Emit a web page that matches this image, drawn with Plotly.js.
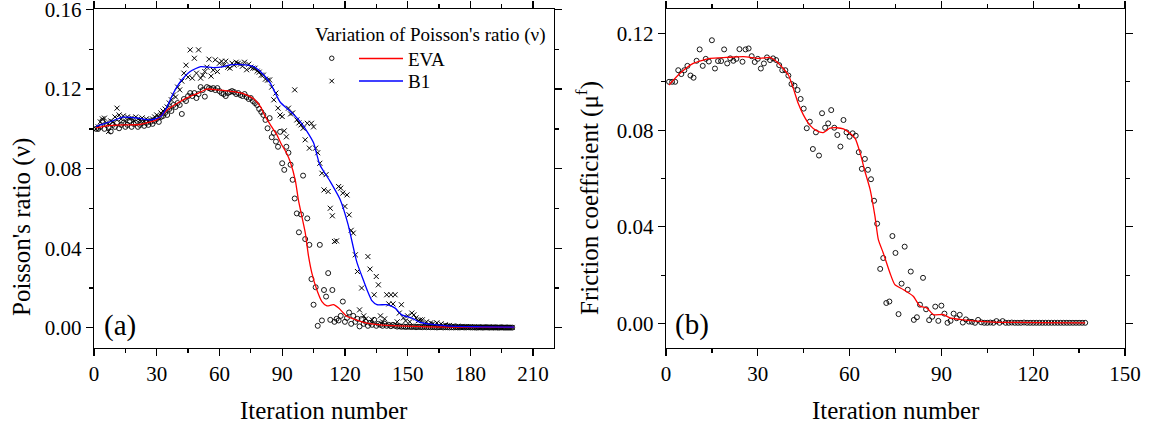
<!DOCTYPE html>
<html>
<head>
<meta charset="utf-8">
<script src="https://cdn.plot.ly/plotly-3.0.1.min.js"></script>
<style>html,body{margin:0;padding:0;background:#fff;}#chart{width:1160px;height:429px;}</style>
</head>
<body>
<div id="chart"></div>
<script>
// ---------- Panel (a): Poisson's ratio ----------
const evaPoints = [
0.100,0.100,0.101,0.104,0.100,0.102,0.101,0.0987,0.102,0.101,
0.103,0.1003,0.102,0.103,0.101,0.102,0.104,0.101,0.1025,0.103,
0.101,0.102,0.103,0.1015,0.103,0.102,0.1035,0.1025,0.104,0.105,
0.1035,0.106,0.1065,0.108,0.107,0.110,0.109,0.112,0.111,0.113,
0.112,0.1075,0.115,0.114,0.1165,0.118,0.1165,0.118,0.1155,0.1175,
0.121,0.1195,0.1162,0.121,0.1205,0.120,0.1205,0.1195,0.1205,0.119,
0.118,0.1175,0.1165,0.118,0.1185,0.119,0.1185,0.1175,0.118,0.117,
0.1165,0.1175,0.116,0.115,0.1155,0.114,0.113,0.112,0.110,0.1085,
0.107,0.1045,0.1003,0.1054,0.0958,0.098,0.0936,0.091,0.0985,0.0827,
0.0794,0.091,0.088,0.082,0.0744,0.065,0.0575,0.048,0.057,0.0765,
0.0446,0.055,0.0417,0.0245,0.0116,0.0204,0.001,0.0417,0.0037,0.019,
0.0157,0.0275,0.004,0.019,0.003,0.0045,0.0037,0.006,0.0132,0.003,
0.005,0.0077,0.002,0.006,0.003,0.0045,0.0007,0.0044,0.002,0.003,
0.001,0.0025,0.0015,0.004,0.001,0.002,0.0015,0.001,0.002,0.001,
0.0015,0.0008,0.0015,0.001,0.0006,0.0008,0.0005,0.0007,0.0004,0.0006,
0.0005,0.0004,0.0006,0.0003,0.0005,0.0004,0.0003,0.0005,0.0003,0.0004,
0.0003,0.0004,0.0003,0.0002,0.0003,0.0004,0.0002,0.0003,0.0003,0.0002,
0.0003,0.0002,0.0003,0.0002,0.0002,0.0003,0.0002,0.0002,0.0003,0.0002,
0.0002,0.0002,0.0001,0.0002,0.0002,0.0001,0.0002,0.0002,0.0001,0.0002,
0.0001,0.0002,0.0001,0.0001,0.0002,0.0001,0.0001,0.0001,0.0001,0.0001
];
const b1Points = [
0.100,0.101,0.1035,0.105,0.1054,0.103,0.0987,0.104,0.1035,0.106,
0.1104,0.107,0.105,0.1065,0.104,0.106,0.105,0.1055,0.104,0.106,
0.105,0.1045,0.1055,0.104,0.105,0.104,0.1045,0.105,0.106,0.107,
0.106,0.108,0.109,0.110,0.111,0.113,0.1146,0.117,0.116,0.121,
0.1196,0.124,0.128,0.132,0.126,0.1397,0.1255,0.1355,0.128,0.1397,
0.1255,0.127,0.1288,0.131,0.135,0.1265,0.1295,0.1347,0.1288,0.133,
0.134,0.132,0.134,0.131,0.1305,0.133,0.132,0.1335,0.133,0.1325,
0.1315,0.1335,0.1297,0.1325,0.131,0.1305,0.1305,0.129,0.1285,0.127,
0.127,0.125,0.1245,0.1246,0.121,0.1146,0.118,0.1104,0.107,0.1062,
0.099,0.096,0.1104,0.1075,0.108,0.1196,0.1045,0.103,0.102,0.1003,
0.0945,0.1028,0.0903,0.1028,0.101,0.0903,0.088,0.0827,0.0777,0.0693,
0.077,0.0685,0.0601,0.0563,0.0434,0.0437,0.071,0.0702,0.0677,0.061,
0.0668,0.0568,0.049,0.0476,0.0367,0.0283,0.009,0.02,0.006,0.0045,
0.0358,0.0295,0.004,0.0166,0.0258,0.0216,0.006,0.003,0.0045,0.0166,
0.012,0.0166,0.012,0.0166,0.003,0.0074,0.0116,0.005,0.0035,0.006,
0.003,0.0074,0.0065,0.005,0.0035,0.004,0.004,0.002,0.003,0.0015,
0.0025,0.002,0.0015,0.0025,0.001,0.002,0.001,0.0015,0.001,0.0012,
0.0008,0.001,0.0006,0.0008,0.0005,0.0007,0.0005,0.0006,0.0004,0.0005,
0.0004,0.0005,0.0003,0.0004,0.0003,0.0004,0.0003,0.0003,0.0004,0.0003,
0.0003,0.0002,0.0003,0.0003,0.0002,0.0003,0.0002,0.0002,0.0002,0.0002
];
const evaLineX = [1,6,14,22,27,30,35,40,46,50,54,59,62,67,72,76.5,79.6,82,85,87.5,89.5,92,94,96.3,97.8,99.4,101,102.6,104.2,106.6,109,111.4,114.5,117,121,124,130,137,146,160,180,201];
const evaLineY = [0.1005,0.1015,0.102,0.1022,0.1035,0.1045,0.1095,0.113,0.1163,0.118,0.120,0.1196,0.1193,0.1187,0.1175,0.115,0.1112,0.106,0.101,0.097,0.0925,0.088,0.083,0.074,0.064,0.056,0.048,0.036,0.0275,0.019,0.0132,0.011,0.0116,0.0099,0.0057,0.0045,0.0025,0.0015,0.001,0.0005,0.0003,0.0002];
const b1LineX = [1,8,14,21,27,32,35,38,41.4,46,51,57,62,65,72,76.4,79.6,84.3,89,94,98.7,102,105,108,113,117.8,121.5,125.7,129,131,133,135.3,140,144,147.2,152,156,168.7,185,201];
const b1LineY = [0.1012,0.1037,0.1059,0.1054,0.1045,0.1062,0.1112,0.118,0.1238,0.1288,0.1313,0.1308,0.1313,0.1322,0.1322,0.1313,0.1288,0.123,0.1135,0.1087,0.1035,0.0985,0.093,0.082,0.0735,0.0643,0.052,0.033,0.0235,0.018,0.0135,0.0116,0.0116,0.0099,0.0065,0.0049,0.0027,0.001,0.0005,0.0003];

// ---------- Panel (b): friction coefficient ----------
const fricPoints = [
0.1000,0.1000,0.1000,0.1048,0.1032,0.1048,0.1066,0.1026,0.1017,0.1087,
0.1134,0.1066,0.1095,0.1084,0.1172,0.1055,0.1086,0.1086,0.1134,0.1076,
0.1097,0.1087,0.1095,0.1135,0.1083,0.1134,0.1138,0.1106,0.1082,0.1095,
0.1055,0.1076,0.1101,0.109,0.1097,0.109,0.1069,0.1048,0.1048,0.1026,
0.0991,0.0984,0.0966,0.0929,0.0889,0.0808,0.0835,0.0722,0.0791,0.0695,
0.087,0.081,0.0828,0.0883,0.081,0.078,0.0732,0.0842,0.0791,0.0773,
0.0787,0.0777,0.0709,0.064,0.0681,0.0636,0.0597,0.0508,0.0413,0.0226,
0.0271,0.0085,0.0091,0.0362,0.0292,0.0039,0.0165,0.0318,0.014,0.0215,
0.0015,0.0026,0.0078,0.0189,0.0059,0.0014,0.0028,0.007,0.0011,0.0074,
0.0041,0.0003,0.0011,0.0041,0.0022,0.0036,0.0004,0.0017,0.0008,0.0007,
0.0003,0.0015,0.0005,0.0003,0.0003,0.0004,0.0003,0.001,0.0003,0.001,
0.0003,0.0003,0.0004,0.0003,0.0003,0.0003,0.0004,0.0003,0.0003,0.0003,
0.0003,0.0003,0.0003,0.0003,0.0003,0.0003,0.0003,0.0003,0.0003,0.0003,
0.0003,0.0003,0.0003,0.0003,0.0003,0.0003,0.0003
];
const fricLineX = [1,4.6,8.9,14.4,19.8,25.3,30.7,34,36.2,38.3,40,41.6,43.2,44.9,47,49.2,51.4,53.6,55.8,58,60.1,61.8,63.4,65,66.7,68.3,69.4,71,73.2,74.8,77.6,80.8,83,85.2,87.4,90.7,92.8,96,101.4,106.8,137];
const fricLineY = [0.0987,0.1035,0.1076,0.1097,0.1101,0.1104,0.1097,0.1101,0.1083,0.1055,0.1028,0.0973,0.0911,0.0863,0.0821,0.0798,0.079,0.0808,0.081,0.0805,0.0787,0.0766,0.0708,0.063,0.0555,0.0443,0.0347,0.0292,0.0209,0.0161,0.014,0.0113,0.0072,0.0065,0.0037,0.0037,0.0023,0.0017,0.001,0.0006,0.0003];

// tick labels / texts
const xTicksA = [0,30,60,90,120,150,180,210];
const yTicksA = [0,0.04,0.08,0.12,0.16];
const xTicksB = [0,30,60,90,120,150];
const yTicksB = [0,0.04,0.08,0.12];

// iteration numbers for the point series
const iterA = evaPoints.map((_, i) => i + 1);
const iterB = fricPoints.map((_, i) => i + 1);

const W = 1160, H = 429;
const FONT = 'Liberation Serif, Times New Roman, serif';
const px = v => v / W;
const py = v => 1 - v / H;

const circ = {symbol: 'circle-open', size: 5, color: '#000', line: {width: 0.9, color: '#000'}};
const cross = {symbol: 'x-thin-open', size: 5, color: '#000', line: {width: 1, color: '#000'}};

const traces = [
  {x: iterA, y: evaPoints, type: 'scatter', mode: 'markers', marker: circ, xaxis: 'x', yaxis: 'y', showlegend: false, hoverinfo: 'skip'},
  {x: iterA, y: b1Points, type: 'scatter', mode: 'markers', marker: cross, xaxis: 'x', yaxis: 'y', showlegend: false, hoverinfo: 'skip'},
  {x: evaLineX, y: evaLineY, type: 'scatter', mode: 'lines', line: {color: '#ff0000', width: 1.3, shape: 'spline', smoothing: 0.6}, xaxis: 'x', yaxis: 'y', showlegend: false},
  {x: b1LineX, y: b1LineY, type: 'scatter', mode: 'lines', line: {color: '#0000ff', width: 1.3, shape: 'spline', smoothing: 0.6}, xaxis: 'x', yaxis: 'y', showlegend: false},
  {x: iterB, y: fricPoints, type: 'scatter', mode: 'markers', marker: circ, xaxis: 'x2', yaxis: 'y2', showlegend: false, hoverinfo: 'skip'},
  {x: fricLineX, y: fricLineY, type: 'scatter', mode: 'lines', line: {color: '#ff0000', width: 1.3, shape: 'spline', smoothing: 0.6}, xaxis: 'x2', yaxis: 'y2', showlegend: false}
];

function minorT(d) {
  return {ticks: 'outside', ticklen: 4, tickwidth: 1.3, tickcolor: '#000', dtick: d, tick0: 0, showgrid: false};
}
function axis(extra) {
  return Object.assign({
    showline: true, linecolor: '#000', linewidth: 1.3, mirror: 'allticks',
    ticks: 'outside', ticklen: 7, tickwidth: 1.3, tickcolor: '#000',
    showgrid: false, zeroline: false,
    ticklabelposition: 'outside', ticklabeloverflow: 'allow',
    tickfont: {family: FONT, size: 21, color: '#000'}
  }, extra);
}

const yDom = [1 - 347.7 / H, 1 - 9.3 / H];

const layout = {
  width: W, height: H,
  margin: {l: 0, r: 0, t: 0, b: 0},
  paper_bgcolor: '#fff', plot_bgcolor: '#fff',
  showlegend: false,
  font: {family: FONT, color: '#000'},
  xaxis: axis({domain: [94 / W, 554 / W], range: [0, 220], tickmode: 'array', tickvals: xTicksA, ticktext: xTicksA.map(String), anchor: 'y', minor: minorT(15)}),
  yaxis: axis({domain: yDom, range: [-0.01, 0.1601], tickmode: 'array', tickvals: yTicksA, ticktext: yTicksA.map(v => v.toFixed(2)), anchor: 'x', minor: minorT(0.02)}),
  xaxis2: axis({domain: [666 / W, 1125 / W], range: [0, 150.01], tickmode: 'array', tickvals: xTicksB, ticktext: xTicksB.map(String), anchor: 'y2', minor: minorT(15)}),
  yaxis2: axis({domain: yDom, range: [-0.01, 0.13], tickmode: 'array', tickvals: yTicksB, ticktext: yTicksB.map(v => v.toFixed(2)), anchor: 'x2', minor: minorT(0.02)}),
  annotations: [
    {xref: 'paper', yref: 'paper', x: px(324), y: py(410), text: 'Iteration number', showarrow: false, xanchor: 'center', yanchor: 'middle', font: {family: FONT, size: 25}},
    {xref: 'paper', yref: 'paper', x: px(895.5), y: py(410), text: 'Iteration number', showarrow: false, xanchor: 'center', yanchor: 'middle', font: {family: FONT, size: 25}},
    {xref: 'paper', yref: 'paper', x: px(22), y: py(227), text: "Poisson's ratio (ν)", textangle: -90, showarrow: false, xanchor: 'center', yanchor: 'middle', font: {family: FONT, size: 25}},
    {xref: 'paper', yref: 'paper', x: px(587), y: py(198), text: 'Friction coefficient (μ<sup>f</sup>)', textangle: -90, showarrow: false, xanchor: 'center', yanchor: 'middle', font: {family: FONT, size: 25}},
    {xref: 'paper', yref: 'paper', x: px(120), y: py(325), text: '(a)', showarrow: false, xanchor: 'center', yanchor: 'middle', font: {family: FONT, size: 29}},
    {xref: 'paper', yref: 'paper', x: px(692), y: py(324), text: '(b)', showarrow: false, xanchor: 'center', yanchor: 'middle', font: {family: FONT, size: 29}},
    {xref: 'paper', yref: 'paper', x: px(430), y: py(35), text: "Variation of Poisson's ratio (ν)", showarrow: false, xanchor: 'center', yanchor: 'middle', font: {family: FONT, size: 19}},
    {xref: 'paper', yref: 'paper', x: px(406), y: py(59), text: 'EVA', showarrow: false, xanchor: 'left', yanchor: 'middle', font: {family: FONT, size: 19}},
    {xref: 'paper', yref: 'paper', x: px(406), y: py(81.5), text: 'B1', showarrow: false, xanchor: 'left', yanchor: 'middle', font: {family: FONT, size: 19}}
  ],
  shapes: [
    // legend glyphs
    {type: 'line', xref: 'paper', yref: 'paper', x0: px(359), x1: px(403), y0: py(58.5), y1: py(58.5), line: {color: '#ff0000', width: 1.3}},
    {type: 'line', xref: 'paper', yref: 'paper', x0: px(359), x1: px(403), y0: py(81), y1: py(81), line: {color: '#0000ff', width: 1.3}},
    {type: 'circle', xref: 'paper', yref: 'paper', x0: px(329.5), x1: px(334), y0: py(56), y1: py(60.5), line: {color: '#000', width: 0.9}},
    {type: 'line', xref: 'paper', yref: 'paper', x0: px(329.5), x1: px(334), y0: py(78.8), y1: py(83.3), line: {color: '#000', width: 1}},
    {type: 'line', xref: 'paper', yref: 'paper', x0: px(329.5), x1: px(334), y0: py(83.3), y1: py(78.8), line: {color: '#000', width: 1}}
  ]
};

Plotly.newPlot('chart', traces, layout, {staticPlot: true, displayModeBar: false});
</script>
</body>
</html>
